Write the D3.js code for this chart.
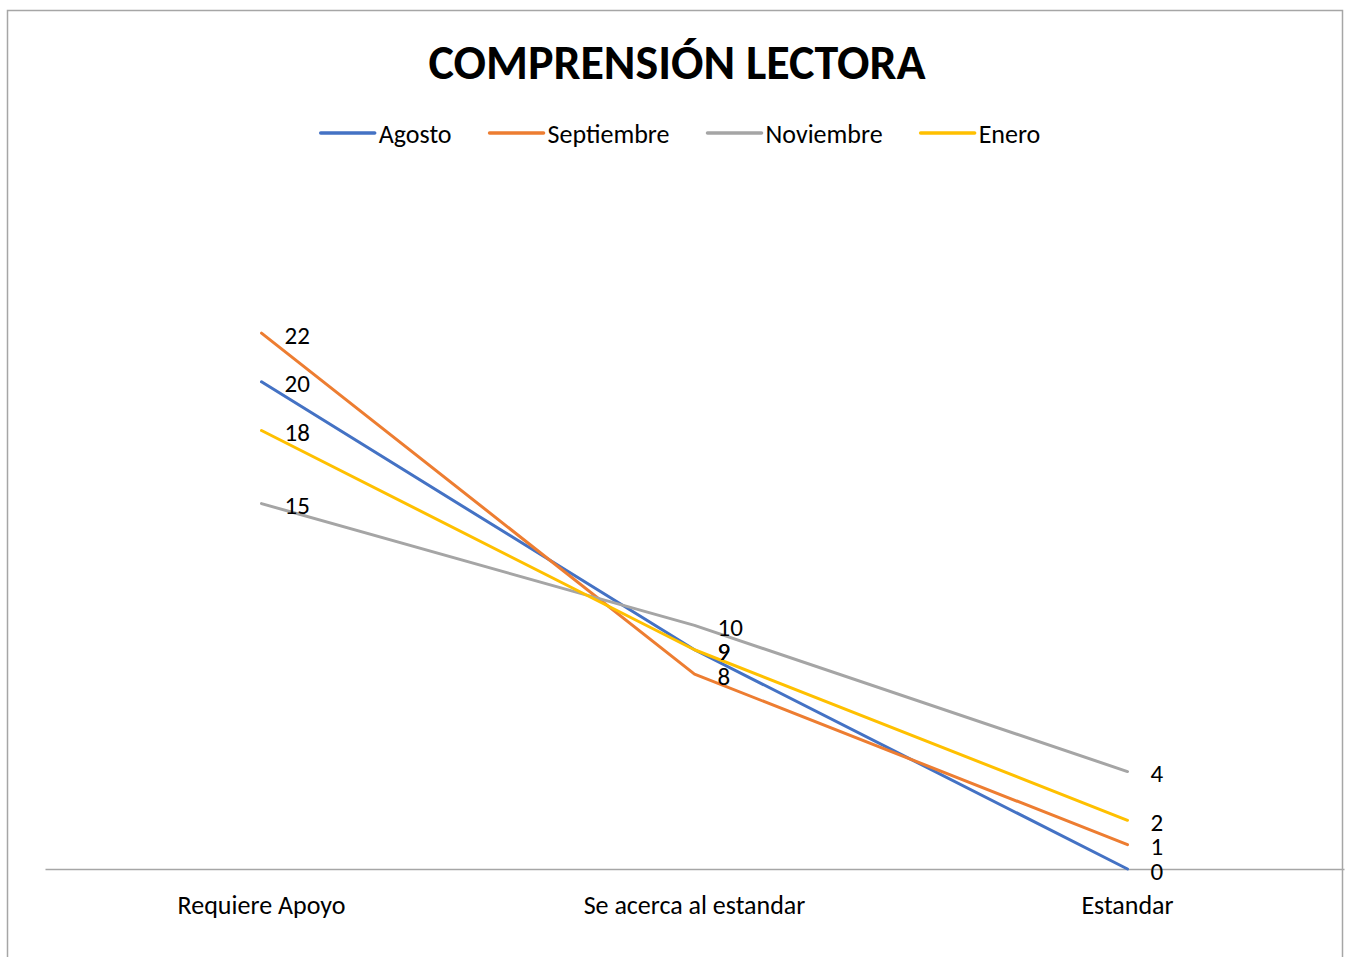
<!DOCTYPE html>
<html>
<head>
<meta charset="utf-8">
<script src="https://cdn.jsdelivr.net/npm/d3@7"></script>
<style>
  body { margin: 0; background: #fff; }
  text { font-family: Calibri, Carlito, Lato, sans-serif; fill: #000; }
</style>
</head>
<body>
<div class="canvas"></div>
<script>
const categories = ['Requiere Apoyo', 'Se acerca al estandar', 'Estandar'];
const seriesNames = ['Agosto', 'Septiembre', 'Noviembre', 'Enero'];
const agosto = [20, 9, 0];
const septiembre = [22, 8, 1];
const noviembre = [15, 10, 4];
const enero = [18, 9, 2];
const colors = ['#4472C4', '#ED7D31', '#A5A5A5', '#FFC000'];

const width = 1346, height = 957;

const svg = d3.select('.canvas')
    .append('svg')
    .attr('width', width)
    .attr('height', height);

// chart border
svg.append('rect')
    .attr('x', 7.5)
    .attr('y', 10.5)
    .attr('width', 1335)
    .attr('height', 980)
    .attr('fill', 'none')
    .attr('stroke', '#A6A6A6')
    .attr('stroke-width', 1.5);

const series = seriesNames.map((name, i) => ({
    name,
    color: colors[i],
    values: [agosto, septiembre, noviembre, enero][i]
}));

const x = d3.scaleBand()
    .domain(categories)
    .range([45, 1344]);

const y = d3.scaleLinear()
    .domain([0, 25])
    .range([869, 260]);

const cx = d => x(d) + x.bandwidth() / 2;

// axis
const xAxis = d3.axisBottom(x)
    .tickSize(0)
    .tickSizeOuter(0)
    .tickPadding(27);

const xAxisGroup = svg.append('g')
    .attr('transform', `translate(0, ${y(0)})`)
    .call(xAxis);

xAxisGroup.select('.domain')
    .attr('stroke', '#A6A6A6')
    .attr('stroke-width', 1.5);

xAxisGroup.selectAll('text')
    .style('font-family', 'Calibri, Carlito, Lato, sans-serif')
    .attr('font-size', 26)
    .attr('fill', '#000');

// lines
const line = d3.line()
    .x((d, i) => cx(categories[i]))
    .y(d => y(d));

svg.selectAll('path.series')
    .data(series)
    .enter()
    .append('path')
    .attr('class', 'series')
    .attr('d', d => line(d.values))
    .attr('fill', 'none')
    .attr('stroke', d => d.color)
    .attr('stroke-width', 3)
    .attr('stroke-linecap', 'round')
    .attr('stroke-linejoin', 'round');

// data labels
series.forEach(s => {
    svg.selectAll(null)
        .data(s.values)
        .enter()
        .append('text')
        .attr('x', (d, i) => cx(categories[i]) + 23)
        .attr('y', d => y(d) + 2)
        .attr('dominant-baseline', 'central')
        .attr('font-size', 25)
        .text(d => d);
});

// title
svg.append('text')
    .attr('x', 677)
    .attr('y', 62)
    .attr('text-anchor', 'middle')
    .attr('dominant-baseline', 'central')
    .attr('font-size', 48)
    .attr('font-weight', 'bold')
    .text('COMPRENSIÓN LECTORA');

// legend
const legend = svg.append('g');
let lx = 0;
series.forEach(s => {
    const g = legend.append('g').attr('transform', `translate(${lx}, 0)`);
    g.append('line')
        .attr('x1', 0).attr('x2', 54)
        .attr('y1', 0).attr('y2', 0)
        .attr('stroke', s.color)
        .attr('stroke-width', 3.5)
        .attr('stroke-linecap', 'round');
    const t = g.append('text')
        .attr('x', 58)
        .attr('y', 1)
        .attr('dominant-baseline', 'central')
        .attr('font-size', 26)
        .text(s.name);
    lx += 58 + t.node().getComputedTextLength() + 38;
});
const legendWidth = lx - 38;
legend.attr('transform', `translate(${680.5 - legendWidth / 2}, 133)`);
</script>
</body>
</html>
